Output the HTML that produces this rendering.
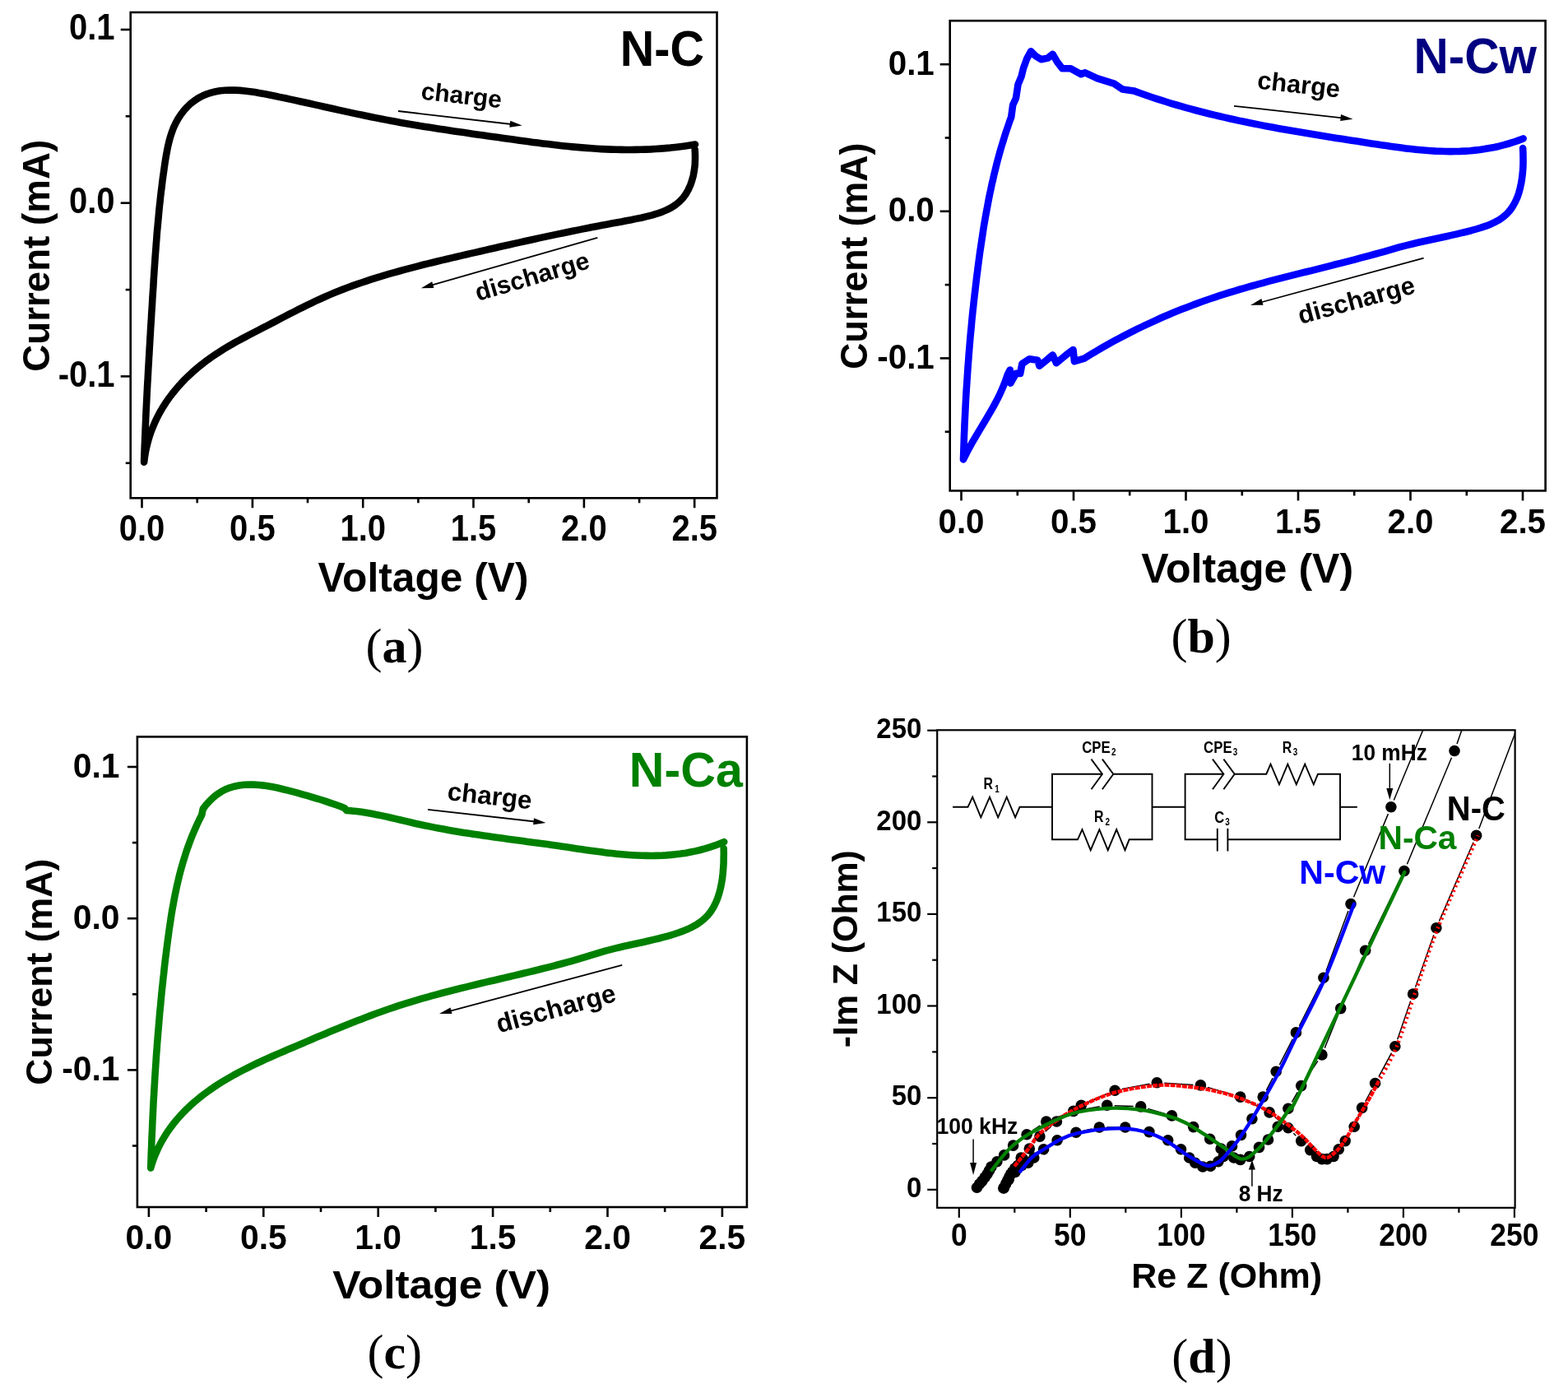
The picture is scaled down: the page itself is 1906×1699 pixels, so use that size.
<!DOCTYPE html>
<html><head><meta charset="utf-8"><title>Figure</title>
<style>html,body{margin:0;padding:0;background:#fff;}svg{display:block;}</style></head>
<body><svg width="1906" height="1699" viewBox="0 0 1906 1699">
<rect width="1906" height="1699" fill="#fff"/>
<rect x="158.7" y="15" width="712.8" height="590.3" fill="none" stroke="#000" stroke-width="2.6" stroke-linejoin="miter"/>
<line x1="172.5" y1="605.3" x2="172.5" y2="617.3" stroke="#000" stroke-width="2.6" stroke-linecap="butt"/>
<line x1="239.7" y1="605.3" x2="239.7" y2="611.3" stroke="#000" stroke-width="2.6" stroke-linecap="butt"/>
<line x1="306.9" y1="605.3" x2="306.9" y2="617.3" stroke="#000" stroke-width="2.6" stroke-linecap="butt"/>
<line x1="374" y1="605.3" x2="374" y2="611.3" stroke="#000" stroke-width="2.6" stroke-linecap="butt"/>
<line x1="441.2" y1="605.3" x2="441.2" y2="617.3" stroke="#000" stroke-width="2.6" stroke-linecap="butt"/>
<line x1="508.4" y1="605.3" x2="508.4" y2="611.3" stroke="#000" stroke-width="2.6" stroke-linecap="butt"/>
<line x1="575.5" y1="605.3" x2="575.5" y2="617.3" stroke="#000" stroke-width="2.6" stroke-linecap="butt"/>
<line x1="642.7" y1="605.3" x2="642.7" y2="611.3" stroke="#000" stroke-width="2.6" stroke-linecap="butt"/>
<line x1="709.9" y1="605.3" x2="709.9" y2="617.3" stroke="#000" stroke-width="2.6" stroke-linecap="butt"/>
<line x1="777.1" y1="605.3" x2="777.1" y2="611.3" stroke="#000" stroke-width="2.6" stroke-linecap="butt"/>
<line x1="844.2" y1="605.3" x2="844.2" y2="617.3" stroke="#000" stroke-width="2.6" stroke-linecap="butt"/>
<line x1="146.7" y1="36" x2="158.7" y2="36" stroke="#000" stroke-width="2.6" stroke-linecap="butt"/>
<line x1="152.7" y1="141.3" x2="158.7" y2="141.3" stroke="#000" stroke-width="2.6" stroke-linecap="butt"/>
<line x1="146.7" y1="246.7" x2="158.7" y2="246.7" stroke="#000" stroke-width="2.6" stroke-linecap="butt"/>
<line x1="152.7" y1="352.1" x2="158.7" y2="352.1" stroke="#000" stroke-width="2.6" stroke-linecap="butt"/>
<line x1="146.7" y1="457.4" x2="158.7" y2="457.4" stroke="#000" stroke-width="2.6" stroke-linecap="butt"/>
<line x1="152.7" y1="562.8" x2="158.7" y2="562.8" stroke="#000" stroke-width="2.6" stroke-linecap="butt"/>
<text transform="translate(139.6 48.3) scale(0.920 1)" font-size="43.5" font-weight="bold" fill="#000" text-anchor="end" font-family="'Liberation Sans', Arial, sans-serif">0.1</text>
<text transform="translate(139.6 259) scale(0.920 1)" font-size="43.5" font-weight="bold" fill="#000" text-anchor="end" font-family="'Liberation Sans', Arial, sans-serif">0.0</text>
<text transform="translate(139.6 469.7) scale(0.920 1)" font-size="43.5" font-weight="bold" fill="#000" text-anchor="end" font-family="'Liberation Sans', Arial, sans-serif">-0.1</text>
<text transform="translate(172.5 657.4) scale(0.920 1)" font-size="43.5" font-weight="bold" fill="#000" text-anchor="middle" font-family="'Liberation Sans', Arial, sans-serif">0.0</text>
<text transform="translate(306.9 657.4) scale(0.920 1)" font-size="43.5" font-weight="bold" fill="#000" text-anchor="middle" font-family="'Liberation Sans', Arial, sans-serif">0.5</text>
<text transform="translate(441.2 657.4) scale(0.920 1)" font-size="43.5" font-weight="bold" fill="#000" text-anchor="middle" font-family="'Liberation Sans', Arial, sans-serif">1.0</text>
<text transform="translate(575.5 657.4) scale(0.920 1)" font-size="43.5" font-weight="bold" fill="#000" text-anchor="middle" font-family="'Liberation Sans', Arial, sans-serif">1.5</text>
<text transform="translate(709.9 657.4) scale(0.920 1)" font-size="43.5" font-weight="bold" fill="#000" text-anchor="middle" font-family="'Liberation Sans', Arial, sans-serif">2.0</text>
<text transform="translate(844.2 657.4) scale(0.920 1)" font-size="43.5" font-weight="bold" fill="#000" text-anchor="middle" font-family="'Liberation Sans', Arial, sans-serif">2.5</text>
<text x="60.2" y="310.8" font-size="47" font-weight="bold" fill="#000" text-anchor="middle" font-family="'Liberation Sans', Arial, sans-serif" transform="rotate(-90 60.2 310.8)" textLength="282" lengthAdjust="spacingAndGlyphs">Current (mA)</text>
<text x="514.6" y="719.3" font-size="50" font-weight="bold" fill="#000" text-anchor="middle" font-family="'Liberation Sans', Arial, sans-serif" textLength="256" lengthAdjust="spacingAndGlyphs">Voltage (V)</text>
<text x="753.8" y="79.9" font-size="61.5" font-weight="bold" fill="#000" text-anchor="start" font-family="'Liberation Sans', Arial, sans-serif" textLength="102.3" lengthAdjust="spacingAndGlyphs">N-C</text>
<path d="M175.1 561.7 L175.3 555.7 L175.5 549.8 L175.7 543.8 L176 537.8 L176.2 531.8 L176.5 525.9 L176.7 519.9 L177 513.9 L177.2 507.9 L177.5 501.8 L177.8 495.8 L178.1 489.8 L178.4 483.8 L178.7 477.8 L179 471.7 L179.3 465.7 L179.7 459.7 L180 453.7 L180.3 447.6 L180.7 441.6 L181 435.6 L181.4 429.6 L181.7 423.5 L182.1 417.5 L182.4 411.5 L182.8 405.5 L183.1 399.5 L183.5 393.5 L183.9 387.5 L184.2 381.5 L184.6 375.5 L185 369.5 L185.3 363.5 L185.7 357.5 L186.1 351.6 L186.5 345.6 L186.8 339.6 L187.2 333.7 L187.6 327.7 L188 321.8 L188.4 315.9 L188.8 309.9 L189.3 304 L189.7 298 L190.2 292.1 L190.6 286.1 L191.1 280.2 L191.7 274.2 L192.2 268.3 L192.8 262.3 L193.3 256.4 L193.9 250.4 L194.6 244.4 L195.2 238.4 L195.9 232.4 L196.7 226.4 L197.4 220.3 L198.2 214.3 L199.1 208.2 L199.9 202.2 L200.8 196.1 L201.8 190 L202.9 183.9 L204.1 177.9 L205.5 172 L207.1 166.1 L209 160.4 L211.1 154.8 L213.7 149.4 L216.6 144.1 L219.9 139.1 L223.5 134.4 L227.5 130 L231.8 125.9 L236.4 122.3 L241.2 119.1 L246.2 116.5 L251.4 114.3 L256.7 112.6 L262.2 111.3 L267.8 110.3 L273.6 109.8 L279.5 109.5 L285.4 109.6 L291.4 109.9 L297.5 110.5 L303.7 111.2 L309.8 112.1 L316 113.2 L322.2 114.3 L328.3 115.5 L334.5 116.8 L340.6 118.1 L346.6 119.3 L352.6 120.6 L358.6 121.9 L364.6 123.2 L370.5 124.5 L376.4 125.8 L382.2 127.1 L388.1 128.4 L393.9 129.7 L399.7 131 L405.5 132.3 L411.3 133.6 L417.1 134.9 L422.9 136.1 L428.6 137.4 L434.4 138.6 L440.2 139.8 L446 141 L451.8 142.2 L457.6 143.4 L463.4 144.5 L469.2 145.6 L475 146.7 L480.9 147.8 L486.8 148.9 L492.7 149.9 L498.6 150.9 L504.5 151.9 L510.4 152.9 L516.3 153.9 L522.3 154.8 L528.2 155.7 L534.2 156.7 L540.2 157.6 L546.1 158.5 L552.1 159.4 L558.1 160.3 L564.1 161.1 L570.1 162 L576.1 162.9 L582 163.7 L588 164.6 L594 165.4 L600 166.3 L606 167.1 L612 168 L617.9 168.8 L623.9 169.6 L629.9 170.5 L635.8 171.3 L641.8 172.1 L647.8 172.9 L653.7 173.6 L659.7 174.4 L665.7 175.1 L671.6 175.8 L677.6 176.5 L683.5 177.2 L689.5 177.8 L695.4 178.4 L701.4 178.9 L707.3 179.4 L713.3 179.9 L719.2 180.3 L725.2 180.7 L731.2 181.1 L737.1 181.4 L743.1 181.6 L749.1 181.8 L755 181.9 L761 182 L767 182 L772.9 181.9 L778.9 181.8 L784.9 181.6 L790.9 181.4 L796.9 181 L802.9 180.6 L808.9 180.1 L814.9 179.6 L820.9 178.9 L826.9 178.2 L832.9 177.4 L839 176.5 L845 175.5 M844.7 181.8 L845 188 L845 194.3 L844.7 200.7 L843.9 207 L842.8 213.3 L841.1 219.4 L839.1 225.3 L836.5 230.9 L833.5 236.2 L829.9 241 L825.7 245.2 L821.1 249 L815.9 252.3 L810.4 255.1 L804.6 257.6 L798.5 259.7 L792.2 261.6 L785.9 263.2 L779.5 264.7 L773.2 265.9 L767.1 267.2 L761.1 268.3 L755.4 269.5 L749.5 270.6 L743.6 271.6 L737.7 272.7 L731.7 273.8 L725.8 275 L719.9 276.1 L714 277.2 L708.1 278.4 L702.2 279.6 L696.3 280.8 L690.4 282 L684.6 283.2 L678.7 284.4 L672.8 285.6 L666.9 286.9 L661 288.1 L655.1 289.4 L649.2 290.7 L643.4 292 L637.5 293.3 L631.6 294.6 L625.7 295.9 L619.8 297.2 L614 298.5 L608.1 299.8 L602.2 301.2 L596.4 302.5 L590.5 303.9 L584.6 305.2 L578.7 306.6 L572.9 307.9 L567 309.3 L561.1 310.6 L555.3 312 L549.4 313.4 L543.6 314.8 L537.7 316.1 L531.9 317.5 L526 319 L520.2 320.4 L514.3 321.8 L508.5 323.3 L502.7 324.8 L496.9 326.3 L491.1 327.9 L485.3 329.5 L479.5 331.1 L473.8 332.7 L468 334.4 L462.3 336.1 L456.6 337.9 L450.9 339.7 L445.2 341.6 L439.5 343.5 L433.9 345.4 L428.2 347.4 L422.6 349.5 L417 351.6 L411.5 353.8 L405.9 356.1 L400.4 358.4 L394.9 360.8 L389.5 363.2 L384 365.7 L378.6 368.3 L373.2 370.9 L367.8 373.6 L362.4 376.2 L357.1 379 L351.7 381.7 L346.3 384.5 L341 387.3 L335.6 390.1 L330.3 392.9 L324.9 395.7 L319.5 398.4 L314.1 401.2 L308.8 404 L303.4 406.8 L298.1 409.6 L292.7 412.4 L287.4 415.3 L282.2 418.3 L277 421.3 L271.8 424.4 L266.8 427.6 L261.7 430.9 L256.8 434.2 L251.9 437.7 L247.2 441.3 L242.5 445 L237.9 448.9 L233.4 452.8 L229.1 456.9 L224.8 461 L220.7 465.3 L216.7 469.7 L212.9 474.2 L209.2 478.8 L205.6 483.5 L202.2 488.4 L199 493.3 L195.9 498.4 L193 503.6 L190.3 508.9 L187.8 514.3 L185.5 519.8 L183.3 525.5 L181.4 531.2 L179.7 537.1 L178.2 543.1 L176.9 549.2 L175.9 555.4 L175.1 561.7" fill="none" stroke="#000" stroke-width="8.6" stroke-linejoin="round" stroke-linecap="round"/>
<line x1="484" y1="135" x2="621.8" y2="151" stroke="#000" stroke-width="1.8" stroke-linecap="butt"/>
<path d="M634.7 152.5 L619.3 154.7 L620.3 146.8 Z" fill="#000"/>
<text x="511" y="120.5" font-size="30" font-weight="bold" fill="#000" text-anchor="start" font-family="'Liberation Sans', Arial, sans-serif" transform="rotate(6.3 511 120.5)">charge</text>
<line x1="726.3" y1="288.9" x2="524.4" y2="346.7" stroke="#000" stroke-width="1.8" stroke-linecap="butt"/>
<path d="M511.9 350.3 L525.2 342.3 L527.4 350 Z" fill="#000"/>
<text x="581" y="366" font-size="30.3" font-weight="bold" fill="#000" text-anchor="start" font-family="'Liberation Sans', Arial, sans-serif" transform="rotate(-16.4 581 366)">discharge</text>
<text x="479.5" y="805" font-size="60" font-weight="normal" fill="#000" text-anchor="middle" font-family="'Liberation Serif', 'Times New Roman', serif">(<tspan font-weight="bold">a</tspan>)</text>
<rect x="1154.7" y="25.2" width="723.9" height="571.2" fill="none" stroke="#000" stroke-width="2.6" stroke-linejoin="miter"/>
<line x1="1168.5" y1="596.4" x2="1168.5" y2="608.4" stroke="#000" stroke-width="2.6" stroke-linecap="butt"/>
<line x1="1236.8" y1="596.4" x2="1236.8" y2="602.4" stroke="#000" stroke-width="2.6" stroke-linecap="butt"/>
<line x1="1305" y1="596.4" x2="1305" y2="608.4" stroke="#000" stroke-width="2.6" stroke-linecap="butt"/>
<line x1="1373.2" y1="596.4" x2="1373.2" y2="602.4" stroke="#000" stroke-width="2.6" stroke-linecap="butt"/>
<line x1="1441.5" y1="596.4" x2="1441.5" y2="608.4" stroke="#000" stroke-width="2.6" stroke-linecap="butt"/>
<line x1="1509.8" y1="596.4" x2="1509.8" y2="602.4" stroke="#000" stroke-width="2.6" stroke-linecap="butt"/>
<line x1="1578" y1="596.4" x2="1578" y2="608.4" stroke="#000" stroke-width="2.6" stroke-linecap="butt"/>
<line x1="1646.2" y1="596.4" x2="1646.2" y2="602.4" stroke="#000" stroke-width="2.6" stroke-linecap="butt"/>
<line x1="1714.5" y1="596.4" x2="1714.5" y2="608.4" stroke="#000" stroke-width="2.6" stroke-linecap="butt"/>
<line x1="1782.8" y1="596.4" x2="1782.8" y2="602.4" stroke="#000" stroke-width="2.6" stroke-linecap="butt"/>
<line x1="1851" y1="596.4" x2="1851" y2="608.4" stroke="#000" stroke-width="2.6" stroke-linecap="butt"/>
<line x1="1142.7" y1="78.2" x2="1154.7" y2="78.2" stroke="#000" stroke-width="2.6" stroke-linecap="butt"/>
<line x1="1148.7" y1="167.5" x2="1154.7" y2="167.5" stroke="#000" stroke-width="2.6" stroke-linecap="butt"/>
<line x1="1142.7" y1="256.8" x2="1154.7" y2="256.8" stroke="#000" stroke-width="2.6" stroke-linecap="butt"/>
<line x1="1148.7" y1="346.1" x2="1154.7" y2="346.1" stroke="#000" stroke-width="2.6" stroke-linecap="butt"/>
<line x1="1142.7" y1="435.4" x2="1154.7" y2="435.4" stroke="#000" stroke-width="2.6" stroke-linecap="butt"/>
<line x1="1148.7" y1="524.7" x2="1154.7" y2="524.7" stroke="#000" stroke-width="2.6" stroke-linecap="butt"/>
<text transform="translate(1135.8 90.8) scale(0.950 1)" font-size="42.5" font-weight="bold" fill="#000" text-anchor="end" font-family="'Liberation Sans', Arial, sans-serif">0.1</text>
<text transform="translate(1135.8 269.4) scale(0.950 1)" font-size="42.5" font-weight="bold" fill="#000" text-anchor="end" font-family="'Liberation Sans', Arial, sans-serif">0.0</text>
<text transform="translate(1135.8 448) scale(0.950 1)" font-size="42.5" font-weight="bold" fill="#000" text-anchor="end" font-family="'Liberation Sans', Arial, sans-serif">-0.1</text>
<text transform="translate(1168.5 647.6) scale(0.950 1)" font-size="42.5" font-weight="bold" fill="#000" text-anchor="middle" font-family="'Liberation Sans', Arial, sans-serif">0.0</text>
<text transform="translate(1305 647.6) scale(0.950 1)" font-size="42.5" font-weight="bold" fill="#000" text-anchor="middle" font-family="'Liberation Sans', Arial, sans-serif">0.5</text>
<text transform="translate(1441.5 647.6) scale(0.950 1)" font-size="42.5" font-weight="bold" fill="#000" text-anchor="middle" font-family="'Liberation Sans', Arial, sans-serif">1.0</text>
<text transform="translate(1578 647.6) scale(0.950 1)" font-size="42.5" font-weight="bold" fill="#000" text-anchor="middle" font-family="'Liberation Sans', Arial, sans-serif">1.5</text>
<text transform="translate(1714.5 647.6) scale(0.950 1)" font-size="42.5" font-weight="bold" fill="#000" text-anchor="middle" font-family="'Liberation Sans', Arial, sans-serif">2.0</text>
<text transform="translate(1851 647.6) scale(0.950 1)" font-size="42.5" font-weight="bold" fill="#000" text-anchor="middle" font-family="'Liberation Sans', Arial, sans-serif">2.5</text>
<text x="1054.4" y="311.2" font-size="46" font-weight="bold" fill="#000" text-anchor="middle" font-family="'Liberation Sans', Arial, sans-serif" transform="rotate(-90 1054.4 311.2)" textLength="275" lengthAdjust="spacingAndGlyphs">Current (mA)</text>
<text x="1516.2" y="707.5" font-size="49.5" font-weight="bold" fill="#000" text-anchor="middle" font-family="'Liberation Sans', Arial, sans-serif" textLength="258" lengthAdjust="spacingAndGlyphs">Voltage (V)</text>
<text x="1718.5" y="88.9" font-size="60.5" font-weight="bold" fill="#000080" text-anchor="start" font-family="'Liberation Sans', Arial, sans-serif" textLength="149.5" lengthAdjust="spacingAndGlyphs">N-Cw</text>
<path d="M1171 558.4 L1171.2 552.4 L1171.4 546.4 L1171.6 540.3 L1171.8 534.3 L1172 528.3 L1172.3 522.3 L1172.5 516.3 L1172.8 510.2 L1173.1 504.2 L1173.4 498.2 L1173.7 492.2 L1174 486.2 L1174.3 480.2 L1174.7 474.1 L1175.1 468.1 L1175.5 462.1 L1175.9 456.1 L1176.3 450.1 L1176.7 444.1 L1177.2 438.1 L1177.6 432.1 L1178.1 426.1 L1178.6 420 L1179.1 414 L1179.6 408 L1180.2 402 L1180.8 396 L1181.3 390 L1181.9 384 L1182.5 378 L1183.2 372 L1183.8 366.1 L1184.5 360.1 L1185.2 354.1 L1185.9 348.1 L1186.6 342.1 L1187.3 336.1 L1188.1 330.1 L1188.8 324.2 L1189.6 318.2 L1190.4 312.2 L1191.2 306.2 L1192.1 300.3 L1193 294.3 L1193.9 288.3 L1194.8 282.4 L1195.7 276.4 L1196.7 270.5 L1197.7 264.6 L1198.8 258.6 L1199.9 252.7 L1201 246.8 L1202.1 240.9 L1203.3 235 L1204.6 229.1 L1205.8 223.2 L1207.2 217.4 L1208.5 211.5 L1210 205.7 L1211.4 199.8 L1212.9 194 L1214.5 188.2 L1216.1 182.4 L1217.8 176.6 L1219.6 170.9 L1221.4 165.1 L1223.2 159.4 L1225.2 153.7 L1227.1 148 L1229.2 142.3 L1229.2 142.3 L1231.2 127.5 L1235 119.2 L1237.5 102.7 L1241.6 92.8 L1244 83 L1248.2 71.4 L1253.1 62.4 L1258.9 68.1 L1265.5 72.2 L1273.7 70.6 L1279.5 65.7 L1285 75.1 L1291.3 83.3 L1301.4 83.3 L1314 90.2 L1319 88.3 L1334.1 95.3 L1354.3 101.6 L1364.4 108.5 L1378.2 110.4 L1378.2 110.4 L1383.9 112.5 L1389.6 114.5 L1395.3 116.5 L1401.1 118.5 L1406.8 120.4 L1412.6 122.2 L1418.3 124 L1424.1 125.8 L1429.9 127.5 L1435.7 129.2 L1441.5 130.8 L1447.3 132.4 L1453.1 134 L1458.9 135.5 L1464.8 137 L1470.6 138.5 L1476.5 139.9 L1482.3 141.3 L1488.2 142.6 L1494.1 144 L1500 145.3 L1505.9 146.6 L1511.8 147.8 L1517.7 149 L1523.6 150.2 L1529.5 151.4 L1535.4 152.6 L1541.4 153.7 L1547.3 154.8 L1553.3 155.9 L1559.2 157 L1565.2 158 L1571.1 159.1 L1577.1 160.1 L1583.1 161.1 L1589 162.1 L1595 163.1 L1601 164.1 L1607 165 L1613 166 L1619 166.9 L1625 167.9 L1631 168.8 L1637 169.8 L1643 170.7 L1649 171.6 L1655 172.6 L1661 173.5 L1667 174.4 L1673 175.3 L1679.1 176.3 L1685.1 177.1 L1691.1 178 L1697.1 178.8 L1703.1 179.6 L1709.1 180.4 L1715.1 181.1 L1721.1 181.7 L1727.1 182.3 L1733.1 182.8 L1739.1 183.2 L1745.1 183.6 L1751.1 183.8 L1757.1 184 L1763.1 184.1 L1769 184 L1775 183.9 L1781 183.6 L1786.9 183.2 L1792.8 182.6 L1798.8 181.9 L1804.7 181.1 L1810.6 180.1 L1816.5 179 L1822.4 177.7 L1828.2 176.2 L1834.1 174.5 L1839.9 172.7 L1845.8 170.6 L1851.6 168.4 M1851.1 180.1 L1851.4 185.8 L1851.5 191.8 L1851.5 197.9 L1851.3 204.1 L1850.8 210.3 L1850.1 216.5 L1849.1 222.7 L1847.8 228.7 L1846.2 234.6 L1844.2 240.3 L1841.7 245.7 L1838.9 250.8 L1835.6 255.5 L1831.8 259.7 L1827.5 263.5 L1822.7 266.9 L1817.5 269.8 L1812 272.4 L1806.3 274.7 L1800.3 276.7 L1794.3 278.5 L1788.2 280.2 L1782.1 281.7 L1776.1 283.2 L1770.2 284.6 L1764.3 285.9 L1758.5 287.2 L1752.7 288.5 L1746.9 289.7 L1741.1 291 L1735.3 292.2 L1729.5 293.5 L1723.7 294.8 L1717.8 296.2 L1712 297.6 L1706 299.1 L1700 300.7 L1694.2 302.4 L1688.3 304.1 L1682.5 305.8 L1676.7 307.4 L1670.8 309 L1664.9 310.6 L1659.1 312.2 L1653.2 313.7 L1647.3 315.3 L1641.4 316.8 L1635.5 318.3 L1629.6 319.9 L1623.7 321.3 L1617.8 322.8 L1611.9 324.3 L1606 325.8 L1600.1 327.3 L1594.2 328.8 L1588.3 330.2 L1582.4 331.7 L1576.5 333.2 L1570.6 334.7 L1564.7 336.2 L1558.8 337.7 L1552.9 339.2 L1547 340.7 L1541.2 342.2 L1535.3 343.8 L1529.4 345.4 L1523.6 347 L1517.7 348.7 L1511.9 350.3 L1506 352 L1500.2 353.8 L1494.4 355.5 L1488.6 357.3 L1482.9 359.2 L1477.1 361.1 L1471.4 363 L1465.6 365 L1459.9 367 L1454.2 369.1 L1448.6 371.2 L1442.9 373.4 L1437.3 375.6 L1431.6 377.8 L1426 380.1 L1420.4 382.5 L1414.9 384.8 L1409.3 387.3 L1403.8 389.8 L1398.3 392.3 L1392.8 394.8 L1387.3 397.5 L1381.8 400.1 L1376.4 402.8 L1371 405.6 L1365.6 408.4 L1360.2 411.2 L1354.9 414.1 L1349.5 417 L1344.2 420 L1338.9 423 L1333.7 426.1 L1328.4 429.2 L1323.2 432.4 L1318 435.6 L1318 435.6 L1306 439.2 L1304.5 425 L1296.7 430.7 L1284 441.3 L1279.7 431.4 L1263.5 444.8 L1261.3 437.7 L1251.2 436.2 L1242.4 442.1 L1240.2 453.9 L1235 453.9 L1228.4 465.7 L1227.7 449.5 L1224.7 455.4 L1224.7 455.4 L1222.7 461.3 L1220.6 467 L1218.2 472.7 L1215.7 478.3 L1213 483.8 L1210.2 489.2 L1207.3 494.6 L1204.3 499.9 L1201.2 505.2 L1198.1 510.4 L1194.9 515.7 L1191.8 520.9 L1188.6 526.2 L1185.5 531.5 L1182.4 536.7 L1179.4 542.1 L1176.5 547.5 L1173.7 552.9 L1171 558.4" fill="none" stroke="#0000ff" stroke-width="8.6" stroke-linejoin="round" stroke-linecap="round"/>
<line x1="1500" y1="128.8" x2="1631.6" y2="143.3" stroke="#000" stroke-width="1.8" stroke-linecap="butt"/>
<path d="M1644.5 144.7 L1629.2 147 L1630 139.1 Z" fill="#000"/>
<text x="1527.5" y="107.5" font-size="30.8" font-weight="bold" fill="#000" text-anchor="start" font-family="'Liberation Sans', Arial, sans-serif" transform="rotate(6.3 1527.5 107.5)">charge</text>
<line x1="1730.6" y1="313.7" x2="1532.5" y2="367.5" stroke="#000" stroke-width="1.8" stroke-linecap="butt"/>
<path d="M1520 370.9 L1533.4 363.1 L1535.5 370.8 Z" fill="#000"/>
<text x="1581" y="394" font-size="30.9" font-weight="bold" fill="#000" text-anchor="start" font-family="'Liberation Sans', Arial, sans-serif" transform="rotate(-15.2 1581 394)">discharge</text>
<text x="1460.1" y="793.2" font-size="60" font-weight="normal" fill="#000" text-anchor="middle" font-family="'Liberation Serif', 'Times New Roman', serif">(<tspan font-weight="bold">b</tspan>)</text>
<rect x="166.9" y="895.4" width="741" height="571.6" fill="none" stroke="#000" stroke-width="2.6" stroke-linejoin="miter"/>
<line x1="180.9" y1="1467" x2="180.9" y2="1479" stroke="#000" stroke-width="2.6" stroke-linecap="butt"/>
<line x1="250.6" y1="1467" x2="250.6" y2="1473" stroke="#000" stroke-width="2.6" stroke-linecap="butt"/>
<line x1="320.3" y1="1467" x2="320.3" y2="1479" stroke="#000" stroke-width="2.6" stroke-linecap="butt"/>
<line x1="390" y1="1467" x2="390" y2="1473" stroke="#000" stroke-width="2.6" stroke-linecap="butt"/>
<line x1="459.7" y1="1467" x2="459.7" y2="1479" stroke="#000" stroke-width="2.6" stroke-linecap="butt"/>
<line x1="529.4" y1="1467" x2="529.4" y2="1473" stroke="#000" stroke-width="2.6" stroke-linecap="butt"/>
<line x1="599.1" y1="1467" x2="599.1" y2="1479" stroke="#000" stroke-width="2.6" stroke-linecap="butt"/>
<line x1="668.8" y1="1467" x2="668.8" y2="1473" stroke="#000" stroke-width="2.6" stroke-linecap="butt"/>
<line x1="738.5" y1="1467" x2="738.5" y2="1479" stroke="#000" stroke-width="2.6" stroke-linecap="butt"/>
<line x1="808.2" y1="1467" x2="808.2" y2="1473" stroke="#000" stroke-width="2.6" stroke-linecap="butt"/>
<line x1="877.9" y1="1467" x2="877.9" y2="1479" stroke="#000" stroke-width="2.6" stroke-linecap="butt"/>
<line x1="154.9" y1="932" x2="166.9" y2="932" stroke="#000" stroke-width="2.6" stroke-linecap="butt"/>
<line x1="160.9" y1="1024.1" x2="166.9" y2="1024.1" stroke="#000" stroke-width="2.6" stroke-linecap="butt"/>
<line x1="154.9" y1="1116.2" x2="166.9" y2="1116.2" stroke="#000" stroke-width="2.6" stroke-linecap="butt"/>
<line x1="160.9" y1="1208.3" x2="166.9" y2="1208.3" stroke="#000" stroke-width="2.6" stroke-linecap="butt"/>
<line x1="154.9" y1="1300.4" x2="166.9" y2="1300.4" stroke="#000" stroke-width="2.6" stroke-linecap="butt"/>
<line x1="160.9" y1="1392.5" x2="166.9" y2="1392.5" stroke="#000" stroke-width="2.6" stroke-linecap="butt"/>
<text transform="translate(145.5 944.8) scale(0.960 1)" font-size="42.5" font-weight="bold" fill="#000" text-anchor="end" font-family="'Liberation Sans', Arial, sans-serif">0.1</text>
<text transform="translate(145.5 1129) scale(0.960 1)" font-size="42.5" font-weight="bold" fill="#000" text-anchor="end" font-family="'Liberation Sans', Arial, sans-serif">0.0</text>
<text transform="translate(145.5 1313.2) scale(0.960 1)" font-size="42.5" font-weight="bold" fill="#000" text-anchor="end" font-family="'Liberation Sans', Arial, sans-serif">-0.1</text>
<text transform="translate(180.9 1518.2) scale(0.960 1)" font-size="42.5" font-weight="bold" fill="#000" text-anchor="middle" font-family="'Liberation Sans', Arial, sans-serif">0.0</text>
<text transform="translate(320.3 1518.2) scale(0.960 1)" font-size="42.5" font-weight="bold" fill="#000" text-anchor="middle" font-family="'Liberation Sans', Arial, sans-serif">0.5</text>
<text transform="translate(459.7 1518.2) scale(0.960 1)" font-size="42.5" font-weight="bold" fill="#000" text-anchor="middle" font-family="'Liberation Sans', Arial, sans-serif">1.0</text>
<text transform="translate(599.1 1518.2) scale(0.960 1)" font-size="42.5" font-weight="bold" fill="#000" text-anchor="middle" font-family="'Liberation Sans', Arial, sans-serif">1.5</text>
<text transform="translate(738.5 1518.2) scale(0.960 1)" font-size="42.5" font-weight="bold" fill="#000" text-anchor="middle" font-family="'Liberation Sans', Arial, sans-serif">2.0</text>
<text transform="translate(877.9 1518.2) scale(0.960 1)" font-size="42.5" font-weight="bold" fill="#000" text-anchor="middle" font-family="'Liberation Sans', Arial, sans-serif">2.5</text>
<text x="63.1" y="1181.2" font-size="45" font-weight="bold" fill="#000" text-anchor="middle" font-family="'Liberation Sans', Arial, sans-serif" transform="rotate(-90 63.1 1181.2)" textLength="275" lengthAdjust="spacingAndGlyphs">Current (mA)</text>
<text x="536.7" y="1577.6" font-size="48" font-weight="bold" fill="#000" text-anchor="middle" font-family="'Liberation Sans', Arial, sans-serif" textLength="265" lengthAdjust="spacingAndGlyphs">Voltage (V)</text>
<text x="764.8" y="955.8" font-size="60" font-weight="bold" fill="#008000" text-anchor="start" font-family="'Liberation Sans', Arial, sans-serif" textLength="138" lengthAdjust="spacingAndGlyphs">N-Ca</text>
<path d="M183.2 1419.5 L183.4 1413.5 L183.6 1407.4 L183.8 1401.4 L184.1 1395.3 L184.3 1389.3 L184.5 1383.2 L184.8 1377.2 L185.1 1371.1 L185.3 1365.1 L185.6 1359 L185.9 1353 L186.2 1346.9 L186.5 1340.9 L186.8 1334.8 L187.2 1328.8 L187.5 1322.7 L187.9 1316.7 L188.2 1310.6 L188.6 1304.6 L189 1298.5 L189.4 1292.5 L189.8 1286.4 L190.2 1280.4 L190.7 1274.3 L191.1 1268.3 L191.6 1262.2 L192.1 1256.2 L192.6 1250.1 L193.1 1244.1 L193.6 1238 L194.1 1232 L194.7 1225.9 L195.3 1219.9 L195.8 1213.9 L196.4 1207.8 L197 1201.8 L197.7 1195.8 L198.3 1189.7 L199 1183.7 L199.6 1177.7 L200.3 1171.6 L201 1165.6 L201.8 1159.6 L202.5 1153.5 L203.3 1147.5 L204.1 1141.5 L204.9 1135.5 L205.7 1129.5 L206.6 1123.5 L207.5 1117.5 L208.4 1111.5 L209.4 1105.5 L210.5 1099.6 L211.6 1093.6 L212.7 1087.7 L214 1081.8 L215.2 1075.9 L216.6 1070 L218 1064.1 L219.5 1058.3 L221.1 1052.5 L222.8 1046.7 L224.6 1041 L226.4 1035.2 L228.4 1029.5 L230.5 1023.8 L232.6 1018.2 L234.9 1012.6 L237.3 1007 L239.8 1001.5 L242.4 996 L245.2 990.5 L246.8 983 L250.5 978.2 L254.6 973.6 L259 969.4 L263.6 965.6 L268.6 962.3 L273.8 959.5 L279.3 957.3 L285 955.7 L290.8 954.5 L296.8 953.8 L302.8 953.5 L308.8 953.6 L314.8 954 L320.7 954.6 L326.7 955.5 L332.6 956.6 L338.4 957.8 L344.2 959.2 L350.1 960.7 L355.9 962.2 L361.6 963.7 L367.4 965.3 L373.2 966.9 L378.9 968.6 L384.6 970.3 L390.3 972 L396 973.9 L401.7 975.8 L407.4 977.8 L413.1 979.8 L418.7 982 L421.5 985 L427.5 985.4 L433.5 986.1 L439.4 986.8 L445.4 987.8 L451.3 988.8 L457.2 989.9 L463.2 991.1 L469.1 992.4 L475 993.8 L480.9 995.1 L486.8 996.5 L492.7 997.9 L498.6 999.3 L504.5 1000.7 L510.4 1002 L516.3 1003.2 L522.2 1004.4 L528.1 1005.6 L534.1 1006.7 L540 1007.8 L545.9 1008.9 L551.8 1009.9 L557.8 1010.9 L563.7 1011.9 L569.7 1012.8 L575.6 1013.7 L581.6 1014.6 L587.5 1015.5 L593.5 1016.3 L599.5 1017.2 L605.4 1018 L611.4 1018.8 L617.4 1019.7 L623.4 1020.5 L629.4 1021.3 L635.3 1022.1 L641.3 1022.9 L647.3 1023.7 L653.3 1024.5 L659.3 1025.3 L665.4 1026.1 L671.4 1027 L677.4 1027.8 L683.4 1028.7 L689.5 1029.6 L695.5 1030.5 L701.5 1031.4 L707.6 1032.3 L713.6 1033.2 L719.6 1034 L725.7 1034.8 L731.7 1035.6 L737.7 1036.4 L743.8 1037.1 L749.8 1037.7 L755.8 1038.3 L761.8 1038.8 L767.9 1039.2 L773.9 1039.5 L779.9 1039.8 L785.9 1039.9 L791.9 1040 L797.8 1039.9 L803.8 1039.7 L809.8 1039.4 L815.7 1038.9 L821.6 1038.3 L827.6 1037.6 L833.5 1036.7 L839.4 1035.6 L845.3 1034.4 L851.1 1033 L857 1031.4 L862.8 1029.6 L868.6 1027.7 L874.4 1025.5 L880.2 1023.1 M879.7 1031.1 L879.8 1036.9 L879.7 1042.8 L879.6 1049 L879.2 1055.2 L878.7 1061.4 L878 1067.7 L877 1073.9 L875.7 1080 L874.1 1086 L872.2 1091.8 L869.9 1097.4 L867.2 1102.7 L864.1 1107.6 L860.6 1112.2 L856.5 1116.3 L852 1120 L847.1 1123.4 L841.9 1126.3 L836.4 1129 L830.6 1131.4 L824.8 1133.5 L818.8 1135.5 L812.8 1137.3 L806.8 1138.9 L800.8 1140.5 L794.9 1141.9 L789 1143.3 L783 1144.7 L777.1 1146 L771.2 1147.3 L765.3 1148.5 L759.4 1149.8 L753.5 1151.2 L747.6 1152.6 L741.8 1154.1 L735.9 1155.6 L730 1157.3 L724.3 1159.1 L718.5 1160.9 L712.8 1162.7 L707 1164.4 L701.2 1166.1 L695.4 1167.8 L689.6 1169.4 L683.7 1171 L677.9 1172.5 L672.1 1174.1 L666.2 1175.6 L660.3 1177 L654.5 1178.5 L648.6 1180 L642.7 1181.4 L636.8 1182.8 L630.9 1184.2 L625 1185.6 L619.1 1187 L613.2 1188.4 L607.3 1189.8 L601.4 1191.2 L595.5 1192.5 L589.6 1193.9 L583.7 1195.3 L577.8 1196.7 L572 1198.2 L566.1 1199.6 L560.2 1201 L554.3 1202.5 L548.5 1204 L542.6 1205.5 L536.8 1207 L531 1208.6 L525.1 1210.1 L519.3 1211.8 L513.5 1213.4 L507.7 1215.1 L502 1216.8 L496.2 1218.6 L490.5 1220.4 L484.8 1222.2 L479.1 1224.1 L473.4 1226 L467.7 1228 L462.1 1230 L456.4 1232 L450.8 1234.1 L445.2 1236.2 L439.6 1238.4 L434 1240.6 L428.4 1242.8 L422.8 1245 L417.2 1247.3 L411.7 1249.5 L406.1 1251.8 L400.5 1254.1 L395 1256.5 L389.4 1258.8 L383.8 1261.1 L378.3 1263.5 L372.7 1265.9 L367.2 1268.2 L361.6 1270.6 L356 1273 L350.4 1275.3 L344.9 1277.7 L339.3 1280.1 L333.7 1282.5 L328.2 1285 L322.7 1287.4 L317.2 1290 L311.7 1292.5 L306.3 1295.1 L300.9 1297.8 L295.5 1300.5 L290.2 1303.3 L284.9 1306.1 L279.7 1309.1 L274.5 1312.1 L269.4 1315.2 L264.3 1318.4 L259.3 1321.7 L254.4 1325.1 L249.6 1328.6 L244.9 1332.2 L240.2 1336 L235.7 1339.8 L231.2 1343.8 L226.9 1347.9 L222.7 1352.1 L218.6 1356.5 L214.7 1361 L210.9 1365.6 L207.3 1370.4 L203.8 1375.2 L200.6 1380.3 L197.5 1385.4 L194.6 1390.7 L191.9 1396.2 L189.4 1401.8 L187.1 1407.5 L185 1413.4 L183.2 1419.5" fill="none" stroke="#008000" stroke-width="8.6" stroke-linejoin="round" stroke-linecap="round"/>
<line x1="520" y1="983.9" x2="650.6" y2="998.5" stroke="#000" stroke-width="1.8" stroke-linecap="butt"/>
<path d="M663.5 999.9 L648.1 1002.2 L649 994.3 Z" fill="#000"/>
<text x="543" y="972" font-size="31.4" font-weight="bold" fill="#000" text-anchor="start" font-family="'Liberation Sans', Arial, sans-serif" transform="rotate(6.3 543 972)">charge</text>
<line x1="756.2" y1="1172.9" x2="546.6" y2="1228.8" stroke="#000" stroke-width="1.8" stroke-linecap="butt"/>
<path d="M534 1232.1 L547.5 1224.4 L549.5 1232.1 Z" fill="#000"/>
<text x="606.5" y="1255.5" font-size="31.6" font-weight="bold" fill="#000" text-anchor="start" font-family="'Liberation Sans', Arial, sans-serif" transform="rotate(-15.2 606.5 1255.5)">discharge</text>
<text x="479.7" y="1662.9" font-size="60" font-weight="normal" fill="#000" text-anchor="middle" font-family="'Liberation Serif', 'Times New Roman', serif">(<tspan font-weight="bold">c</tspan>)</text>
<rect x="1139.2" y="887.3" width="702.4" height="580.5" fill="none" stroke="#000" stroke-width="2.2" stroke-linejoin="miter"/>
<line x1="1165.8" y1="1467.8" x2="1165.8" y2="1479.8" stroke="#000" stroke-width="2.2" stroke-linecap="butt"/>
<line x1="1233.3" y1="1467.8" x2="1233.3" y2="1473.8" stroke="#000" stroke-width="2.2" stroke-linecap="butt"/>
<line x1="1300.8" y1="1467.8" x2="1300.8" y2="1479.8" stroke="#000" stroke-width="2.2" stroke-linecap="butt"/>
<line x1="1368.3" y1="1467.8" x2="1368.3" y2="1473.8" stroke="#000" stroke-width="2.2" stroke-linecap="butt"/>
<line x1="1435.9" y1="1467.8" x2="1435.9" y2="1479.8" stroke="#000" stroke-width="2.2" stroke-linecap="butt"/>
<line x1="1503.4" y1="1467.8" x2="1503.4" y2="1473.8" stroke="#000" stroke-width="2.2" stroke-linecap="butt"/>
<line x1="1570.9" y1="1467.8" x2="1570.9" y2="1479.8" stroke="#000" stroke-width="2.2" stroke-linecap="butt"/>
<line x1="1638.4" y1="1467.8" x2="1638.4" y2="1473.8" stroke="#000" stroke-width="2.2" stroke-linecap="butt"/>
<line x1="1705.9" y1="1467.8" x2="1705.9" y2="1479.8" stroke="#000" stroke-width="2.2" stroke-linecap="butt"/>
<line x1="1773.4" y1="1467.8" x2="1773.4" y2="1473.8" stroke="#000" stroke-width="2.2" stroke-linecap="butt"/>
<line x1="1840.9" y1="1467.8" x2="1840.9" y2="1479.8" stroke="#000" stroke-width="2.2" stroke-linecap="butt"/>
<line x1="1127.2" y1="1445.8" x2="1139.2" y2="1445.8" stroke="#000" stroke-width="2.2" stroke-linecap="butt"/>
<line x1="1133.2" y1="1390" x2="1139.2" y2="1390" stroke="#000" stroke-width="2.2" stroke-linecap="butt"/>
<line x1="1127.2" y1="1334.2" x2="1139.2" y2="1334.2" stroke="#000" stroke-width="2.2" stroke-linecap="butt"/>
<line x1="1133.2" y1="1278.4" x2="1139.2" y2="1278.4" stroke="#000" stroke-width="2.2" stroke-linecap="butt"/>
<line x1="1127.2" y1="1222.5" x2="1139.2" y2="1222.5" stroke="#000" stroke-width="2.2" stroke-linecap="butt"/>
<line x1="1133.2" y1="1166.7" x2="1139.2" y2="1166.7" stroke="#000" stroke-width="2.2" stroke-linecap="butt"/>
<line x1="1127.2" y1="1110.9" x2="1139.2" y2="1110.9" stroke="#000" stroke-width="2.2" stroke-linecap="butt"/>
<line x1="1133.2" y1="1055.1" x2="1139.2" y2="1055.1" stroke="#000" stroke-width="2.2" stroke-linecap="butt"/>
<line x1="1127.2" y1="999.3" x2="1139.2" y2="999.3" stroke="#000" stroke-width="2.2" stroke-linecap="butt"/>
<line x1="1133.2" y1="943.5" x2="1139.2" y2="943.5" stroke="#000" stroke-width="2.2" stroke-linecap="butt"/>
<line x1="1127.2" y1="887.7" x2="1139.2" y2="887.7" stroke="#000" stroke-width="2.2" stroke-linecap="butt"/>
<text transform="translate(1120.3 1455) scale(0.915 1)" font-size="36" font-weight="bold" fill="#000" text-anchor="end" font-family="'Liberation Sans', Arial, sans-serif">0</text>
<text transform="translate(1165.8 1514.4) scale(0.920 1)" font-size="38.5" font-weight="bold" fill="#000" text-anchor="middle" font-family="'Liberation Sans', Arial, sans-serif">0</text>
<text transform="translate(1120.3 1343.4) scale(0.915 1)" font-size="36" font-weight="bold" fill="#000" text-anchor="end" font-family="'Liberation Sans', Arial, sans-serif">50</text>
<text transform="translate(1300.8 1514.4) scale(0.920 1)" font-size="38.5" font-weight="bold" fill="#000" text-anchor="middle" font-family="'Liberation Sans', Arial, sans-serif">50</text>
<text transform="translate(1120.3 1231.8) scale(0.915 1)" font-size="36" font-weight="bold" fill="#000" text-anchor="end" font-family="'Liberation Sans', Arial, sans-serif">100</text>
<text transform="translate(1435.9 1514.4) scale(0.920 1)" font-size="38.5" font-weight="bold" fill="#000" text-anchor="middle" font-family="'Liberation Sans', Arial, sans-serif">100</text>
<text transform="translate(1120.3 1120.1) scale(0.915 1)" font-size="36" font-weight="bold" fill="#000" text-anchor="end" font-family="'Liberation Sans', Arial, sans-serif">150</text>
<text transform="translate(1570.9 1514.4) scale(0.920 1)" font-size="38.5" font-weight="bold" fill="#000" text-anchor="middle" font-family="'Liberation Sans', Arial, sans-serif">150</text>
<text transform="translate(1120.3 1008.5) scale(0.915 1)" font-size="36" font-weight="bold" fill="#000" text-anchor="end" font-family="'Liberation Sans', Arial, sans-serif">200</text>
<text transform="translate(1705.9 1514.4) scale(0.920 1)" font-size="38.5" font-weight="bold" fill="#000" text-anchor="middle" font-family="'Liberation Sans', Arial, sans-serif">200</text>
<text transform="translate(1120.3 896.9) scale(0.915 1)" font-size="36" font-weight="bold" fill="#000" text-anchor="end" font-family="'Liberation Sans', Arial, sans-serif">250</text>
<text transform="translate(1840.9 1514.4) scale(0.920 1)" font-size="38.5" font-weight="bold" fill="#000" text-anchor="middle" font-family="'Liberation Sans', Arial, sans-serif">250</text>
<text x="1042" y="1153.2" font-size="42" font-weight="bold" fill="#000" text-anchor="middle" font-family="'Liberation Sans', Arial, sans-serif" transform="rotate(-90 1042 1153.2)" textLength="240" lengthAdjust="spacingAndGlyphs">-Im Z (Ohm)</text>
<text x="1491.2" y="1565" font-size="42" font-weight="bold" fill="#000" text-anchor="middle" font-family="'Liberation Sans', Arial, sans-serif" textLength="232" lengthAdjust="spacingAndGlyphs">Re Z (Ohm)</text>
<text x="1461" y="1667.8" font-size="60" font-weight="normal" fill="#000" text-anchor="middle" font-family="'Liberation Serif', 'Times New Roman', serif">(<tspan font-weight="bold">d</tspan>)</text>
<path d="M1158.1 980.8 L1176.5 980.8 L1182.2 968.7 L1192.3 993.4 L1203 968.7 L1213.2 993.4 L1223.7 968.7 L1234.1 993.4 L1239.5 980.8 L1279 980.8" fill="none" stroke="#000" stroke-width="1.9" stroke-linejoin="miter"/>
<path d="M1339.9 940.7 L1279 940.7 L1279 1020.3 L1310 1020.3 L1315.5 1008.1 L1325.7 1033.2 L1336.4 1008.1 L1346.7 1033.2 L1357.2 1008.1 L1367.5 1033.2 L1372.6 1020.3 L1400.5 1020.3 L1400.5 940.7 L1353.3 940.7" fill="none" stroke="#000" stroke-width="1.9" stroke-linejoin="miter"/>
<path d="M1326.5 922.6 L1339.9 940.7 L1326.5 959.3" fill="none" stroke="#000" stroke-width="1.9" stroke-linejoin="miter"/>
<path d="M1339.9 922.6 L1353.3 940.7 L1339.9 959.3" fill="none" stroke="#000" stroke-width="1.9" stroke-linejoin="miter"/>
<path d="M1400.5 980.8 L1440.6 980.8" fill="none" stroke="#000" stroke-width="1.9" stroke-linejoin="miter"/>
<path d="M1487.4 940.7 L1440.6 940.7 L1440.6 1020.3 L1479.8 1020.3" fill="none" stroke="#000" stroke-width="1.9" stroke-linejoin="miter"/>
<path d="M1500.7 940.7 L1539.3 940.7 L1544.5 928.6 L1555 953.3 L1565.3 928.6 L1575.8 953.3 L1586.2 928.6 L1596.8 953.3 L1602 940.7 L1629 940.7 L1629 1020.3 L1492.4 1020.3" fill="none" stroke="#000" stroke-width="1.9" stroke-linejoin="miter"/>
<path d="M1474 922.6 L1487.4 940.7 L1474 959.3" fill="none" stroke="#000" stroke-width="1.9" stroke-linejoin="miter"/>
<path d="M1487.4 922.6 L1500.7 940.7 L1487.4 959.3" fill="none" stroke="#000" stroke-width="1.9" stroke-linejoin="miter"/>
<path d="M1479.8 1006.8 L1479.8 1034.5" fill="none" stroke="#000" stroke-width="1.9" stroke-linejoin="miter"/>
<path d="M1492.4 1006.8 L1492.4 1034.5" fill="none" stroke="#000" stroke-width="1.9" stroke-linejoin="miter"/>
<path d="M1629 980.8 L1649.8 980.8" fill="none" stroke="#000" stroke-width="1.9" stroke-linejoin="miter"/>
<text x="1195.6" y="959.3" font-size="19.5" font-weight="bold" font-family="'Liberation Sans', Arial, sans-serif" fill="#000" textLength="11.5" lengthAdjust="spacingAndGlyphs">R</text>
<text x="1209.3" y="962.6" font-size="12.5" font-weight="bold" font-family="'Liberation Sans', Arial, sans-serif" fill="#000" textLength="5.5" lengthAdjust="spacingAndGlyphs">1</text>
<text x="1315.2" y="915" font-size="19.5" font-weight="bold" font-family="'Liberation Sans', Arial, sans-serif" fill="#000" textLength="34.5" lengthAdjust="spacingAndGlyphs">CPE</text>
<text x="1351" y="918.1" font-size="12.5" font-weight="bold" font-family="'Liberation Sans', Arial, sans-serif" fill="#000" textLength="5.5" lengthAdjust="spacingAndGlyphs">2</text>
<text x="1330.1" y="999.4" font-size="19.5" font-weight="bold" font-family="'Liberation Sans', Arial, sans-serif" fill="#000" textLength="11.5" lengthAdjust="spacingAndGlyphs">R</text>
<text x="1343.6" y="1002.5" font-size="12.5" font-weight="bold" font-family="'Liberation Sans', Arial, sans-serif" fill="#000" textLength="5.5" lengthAdjust="spacingAndGlyphs">2</text>
<text x="1463.1" y="914.9" font-size="19.5" font-weight="bold" font-family="'Liberation Sans', Arial, sans-serif" fill="#000" textLength="34.5" lengthAdjust="spacingAndGlyphs">CPE</text>
<text x="1498.8" y="918" font-size="12.5" font-weight="bold" font-family="'Liberation Sans', Arial, sans-serif" fill="#000" textLength="5.5" lengthAdjust="spacingAndGlyphs">3</text>
<text x="1558.7" y="914.9" font-size="19.5" font-weight="bold" font-family="'Liberation Sans', Arial, sans-serif" fill="#000" textLength="11.5" lengthAdjust="spacingAndGlyphs">R</text>
<text x="1571.8" y="918" font-size="12.5" font-weight="bold" font-family="'Liberation Sans', Arial, sans-serif" fill="#000" textLength="5.5" lengthAdjust="spacingAndGlyphs">3</text>
<text x="1476.3" y="1000.2" font-size="19.5" font-weight="bold" font-family="'Liberation Sans', Arial, sans-serif" fill="#000" textLength="12" lengthAdjust="spacingAndGlyphs">C</text>
<text x="1489.2" y="1003.3" font-size="12.5" font-weight="bold" font-family="'Liberation Sans', Arial, sans-serif" fill="#000" textLength="5.5" lengthAdjust="spacingAndGlyphs">3</text>
<clipPath id="cd"><rect x="1139.2" y="887.3" width="702.4" height="580.5"/></clipPath>
<g clip-path="url(#cd)">
<path d="M1276.1 1391.8 L1277.6 1390.8 M1293.4 1382.4 L1299.7 1379.7 M1316.8 1374.3 L1327.5 1372 M1345.3 1370 L1358.8 1370 M1376.6 1371.7 L1388.1 1373.9 M1405.1 1379.3 L1411.5 1382.1 M1427.1 1390.9 L1428.1 1391.7 M1513.6 1372.1 L1516.8 1367.2 M1525.9 1351.7 L1531.2 1341.2 M1539.3 1325.1 L1547.1 1310.2 M1555.3 1294.2 L1571.3 1262.9 M1579.4 1246.9 L1604.9 1196.3 M1612 1179.9 L1638.9 1107 M1645.5 1090.3 L1687.4 989.1 M1694.3 972.5 L1731.9 882" fill="none" stroke="#000" stroke-width="1.5" stroke-linejoin="round" stroke-linecap="butt"/>
<path d="M1238.6 1386.4 L1241.1 1384.4 M1255.6 1373.7 L1264.3 1368 M1280.2 1359.8 L1296.4 1353.6 M1313.7 1348.9 L1336.8 1344.8 M1354.7 1343.7 L1377.7 1344.5 M1395.3 1347.4 L1415.8 1353.4 M1432.4 1360.1 L1442.7 1365.4 M1458 1374.9 L1463.4 1378.9 M1491.5 1401.2 L1492.4 1401.8 M1546.9 1377.8 L1547.9 1376.5 M1557.8 1361.5 L1561.4 1355 M1570.4 1339.4 L1577.2 1327.4 M1586.7 1312.1 L1601.9 1289.4 M1610.3 1273.6 L1626.3 1233.9 M1633.2 1217.3 L1656.1 1163.5 M1663.6 1147.1 L1702.9 1066.6 M1710.4 1050.2 L1764.5 920.8 M1771 904 L1778.8 881.8" fill="none" stroke="#000" stroke-width="1.5" stroke-linejoin="round" stroke-linecap="butt"/>
<path d="M1257.1 1389.1 L1258.1 1388 M1270.6 1375.1 L1277.7 1369 M1291.9 1358 L1306.8 1348.3 M1322.5 1339.7 L1347 1328.8 M1364 1323.6 L1397.5 1317.3 M1415.3 1316.2 L1450.4 1318.4 M1468 1321.4 L1499.1 1330.6 M1515.6 1337.3 L1535.2 1347.7 M1550 1357.6 L1559 1365.1 M1572.3 1377.2 L1575.3 1380.2 M1640 1379 L1641.4 1376.9 M1649.6 1361 L1652.2 1354.7 M1659.8 1338.5 L1667.4 1324.4 M1675.9 1308.6 L1691.5 1279.6 M1698.7 1263.2 L1714.7 1216.5 M1720.6 1199.5 L1742.9 1136.2 M1749.5 1119.4 L1791 1023.7 M1797.8 1007 L1843.7 885.9" fill="none" stroke="#000" stroke-width="1.5" stroke-linejoin="round" stroke-linecap="butt"/>
</g>
<circle cx="1187.5" cy="1443.2" r="6.8" fill="#000"/>
<circle cx="1190.5" cy="1439" r="6.8" fill="#000"/>
<circle cx="1193.8" cy="1435.4" r="6.8" fill="#000"/>
<circle cx="1197" cy="1431" r="6.8" fill="#000"/>
<circle cx="1200.1" cy="1426.7" r="6.8" fill="#000"/>
<circle cx="1202.5" cy="1422.5" r="6.8" fill="#000"/>
<circle cx="1204.9" cy="1418.1" r="6.8" fill="#000"/>
<circle cx="1211.9" cy="1411.8" r="6.8" fill="#000"/>
<circle cx="1220.6" cy="1403.9" r="6.8" fill="#000"/>
<circle cx="1231.6" cy="1392.1" r="6.8" fill="#000"/>
<circle cx="1248.1" cy="1378.7" r="6.8" fill="#000"/>
<circle cx="1271.8" cy="1363" r="6.8" fill="#000"/>
<circle cx="1304.8" cy="1350.4" r="6.8" fill="#000"/>
<circle cx="1345.7" cy="1343.3" r="6.8" fill="#000"/>
<circle cx="1386.7" cy="1344.9" r="6.8" fill="#000"/>
<circle cx="1424.4" cy="1355.9" r="6.8" fill="#000"/>
<circle cx="1450.7" cy="1369.6" r="6.8" fill="#000"/>
<circle cx="1470.7" cy="1384.2" r="6.8" fill="#000"/>
<circle cx="1484.1" cy="1396" r="6.8" fill="#000"/>
<circle cx="1499.8" cy="1407" r="6.8" fill="#000"/>
<circle cx="1507.7" cy="1409.4" r="6.8" fill="#000"/>
<circle cx="1518.7" cy="1405.5" r="6.8" fill="#000"/>
<circle cx="1530.5" cy="1394.4" r="6.8" fill="#000"/>
<circle cx="1541.5" cy="1385" r="6.8" fill="#000"/>
<circle cx="1553.3" cy="1369.3" r="6.8" fill="#000"/>
<circle cx="1565.9" cy="1347.2" r="6.8" fill="#000"/>
<circle cx="1581.7" cy="1319.6" r="6.8" fill="#000"/>
<circle cx="1606.9" cy="1281.9" r="6.8" fill="#000"/>
<circle cx="1629.7" cy="1225.6" r="6.8" fill="#000"/>
<circle cx="1659.6" cy="1155.2" r="6.8" fill="#000"/>
<circle cx="1706.9" cy="1058.5" r="6.8" fill="#000"/>
<circle cx="1768" cy="912.5" r="6.8" fill="#000"/>
<circle cx="1220.4" cy="1443.6" r="6.8" fill="#000"/>
<circle cx="1222.5" cy="1439" r="6.8" fill="#000"/>
<circle cx="1224.5" cy="1435" r="6.8" fill="#000"/>
<circle cx="1226.5" cy="1431" r="6.8" fill="#000"/>
<circle cx="1228.5" cy="1427" r="6.8" fill="#000"/>
<circle cx="1230.8" cy="1424" r="6.8" fill="#000"/>
<circle cx="1233.5" cy="1420" r="6.8" fill="#000"/>
<circle cx="1237.1" cy="1416.5" r="6.8" fill="#000"/>
<circle cx="1241.2" cy="1407.1" r="6.8" fill="#000"/>
<circle cx="1243.4" cy="1408.6" r="6.8" fill="#000"/>
<circle cx="1251.3" cy="1396" r="6.8" fill="#000"/>
<circle cx="1263.9" cy="1381.1" r="6.8" fill="#000"/>
<circle cx="1284.4" cy="1363" r="6.8" fill="#000"/>
<circle cx="1314.3" cy="1343.3" r="6.8" fill="#000"/>
<circle cx="1355.2" cy="1325.2" r="6.8" fill="#000"/>
<circle cx="1406.3" cy="1315.7" r="6.8" fill="#000"/>
<circle cx="1459.4" cy="1318.9" r="6.8" fill="#000"/>
<circle cx="1507.7" cy="1333.1" r="6.8" fill="#000"/>
<circle cx="1543.1" cy="1351.9" r="6.8" fill="#000"/>
<circle cx="1565.9" cy="1370.8" r="6.8" fill="#000"/>
<circle cx="1581.7" cy="1386.6" r="6.8" fill="#000"/>
<circle cx="1592.7" cy="1397.6" r="6.8" fill="#000"/>
<circle cx="1600.6" cy="1405.5" r="6.8" fill="#000"/>
<circle cx="1606.9" cy="1408.6" r="6.8" fill="#000"/>
<circle cx="1613.1" cy="1408.6" r="6.8" fill="#000"/>
<circle cx="1621" cy="1405.5" r="6.8" fill="#000"/>
<circle cx="1627.3" cy="1396.8" r="6.8" fill="#000"/>
<circle cx="1635.2" cy="1386.6" r="6.8" fill="#000"/>
<circle cx="1646.2" cy="1369.3" r="6.8" fill="#000"/>
<circle cx="1655.6" cy="1346.4" r="6.8" fill="#000"/>
<circle cx="1671.6" cy="1316.5" r="6.8" fill="#000"/>
<circle cx="1695.8" cy="1271.7" r="6.8" fill="#000"/>
<circle cx="1717.6" cy="1208" r="6.8" fill="#000"/>
<circle cx="1745.9" cy="1127.7" r="6.8" fill="#000"/>
<circle cx="1794.6" cy="1015.4" r="6.8" fill="#000"/>
<circle cx="1219.8" cy="1444" r="6.8" fill="#000"/>
<circle cx="1226.1" cy="1433.8" r="6.8" fill="#000"/>
<circle cx="1234" cy="1424.4" r="6.8" fill="#000"/>
<circle cx="1241.9" cy="1416.5" r="6.8" fill="#000"/>
<circle cx="1249.7" cy="1413.3" r="6.8" fill="#000"/>
<circle cx="1256.8" cy="1407" r="6.8" fill="#000"/>
<circle cx="1268.6" cy="1396.8" r="6.8" fill="#000"/>
<circle cx="1285.1" cy="1385.8" r="6.8" fill="#000"/>
<circle cx="1308" cy="1376.3" r="6.8" fill="#000"/>
<circle cx="1336.3" cy="1370" r="6.8" fill="#000"/>
<circle cx="1367.8" cy="1370" r="6.8" fill="#000"/>
<circle cx="1396.9" cy="1375.6" r="6.8" fill="#000"/>
<circle cx="1419.7" cy="1385.8" r="6.8" fill="#000"/>
<circle cx="1435.5" cy="1396.8" r="6.8" fill="#000"/>
<circle cx="1445.7" cy="1407" r="6.8" fill="#000"/>
<circle cx="1452.8" cy="1413.3" r="6.8" fill="#000"/>
<circle cx="1462" cy="1418" r="6.8" fill="#000"/>
<circle cx="1471.5" cy="1417.3" r="6.8" fill="#000"/>
<circle cx="1480.9" cy="1411.8" r="6.8" fill="#000"/>
<circle cx="1487.2" cy="1405.5" r="6.8" fill="#000"/>
<circle cx="1497.5" cy="1392.9" r="6.8" fill="#000"/>
<circle cx="1508.5" cy="1379.5" r="6.8" fill="#000"/>
<circle cx="1521.9" cy="1359.8" r="6.8" fill="#000"/>
<circle cx="1535.2" cy="1333.1" r="6.8" fill="#000"/>
<circle cx="1551.2" cy="1302.2" r="6.8" fill="#000"/>
<circle cx="1575.4" cy="1254.9" r="6.8" fill="#000"/>
<circle cx="1608.9" cy="1188.3" r="6.8" fill="#000"/>
<circle cx="1642" cy="1098.6" r="6.8" fill="#000"/>
<circle cx="1690.9" cy="980.8" r="6.8" fill="#000"/>
<path d="M1233.2 1417.3 C1236.2 1413.5 1246.5 1400.8 1251.5 1394.4 C1256.4 1388 1257 1384.5 1262.9 1378.7 C1268.9 1372.9 1277.8 1366 1287.1 1359.8 C1296.5 1353.6 1307.1 1347.2 1319.1 1341.7 C1331 1336.2 1344 1330.6 1358.8 1326.8 C1373.6 1323 1393.7 1320 1407.6 1318.9 C1421.5 1317.9 1431 1319.5 1442 1320.5 C1453 1321.5 1463 1323 1473.5 1325.2 C1484 1327.4 1494.5 1330.1 1504.9 1333.8 C1515.3 1337.5 1526.9 1342.5 1535.9 1347.2 C1545 1351.9 1551.5 1356.7 1559.2 1362.2 C1566.9 1367.7 1575.9 1374.7 1582.3 1380.3 C1588.7 1385.9 1592.6 1391.5 1597.5 1396 C1602.4 1400.5 1606.9 1406.7 1611.6 1407 C1616.3 1407.3 1621.5 1401.8 1625.8 1397.6 C1630.1 1393.4 1633.5 1387.9 1637.3 1381.9 C1641.2 1375.9 1644.8 1368.5 1648.9 1361.4 C1653 1354.3 1657.8 1347 1662.1 1339.4 C1666.5 1331.8 1672.9 1319.7 1675 1315.7" fill="none" stroke="#ff0000" stroke-width="4.4" stroke-linejoin="round" stroke-dasharray="6 1.2" stroke-linecap="butt"/>
<path d="M1675 1315.7 C1678.8 1308.4 1690.4 1289.7 1697.8 1271.7 C1705.2 1253.8 1711.2 1232 1719.6 1208 C1727.9 1184 1735.1 1159.8 1747.9 1127.7 C1760.7 1095.6 1788.5 1034.1 1796.6 1015.4" fill="none" stroke="#ff0000" stroke-width="4.6" stroke-linejoin="round" stroke-dasharray="2.3 3.8" stroke-linecap="butt"/>
<path d="M1205.6 1422 C1209.4 1417.5 1219.9 1402.7 1228.1 1395 C1236.4 1387.3 1242.6 1382.5 1255.1 1375.6 C1267.6 1368.7 1287.7 1358.3 1303 1353.5 C1318.4 1348.7 1333.3 1347.7 1347.2 1346.9 C1361.1 1346.1 1374.3 1347.2 1386.6 1348.8 C1398.8 1350.4 1411.9 1354.1 1420.9 1356.7 C1430 1359.3 1433.8 1360.8 1441 1364.5 C1448.2 1368.2 1456.5 1373.7 1464.2 1378.7 C1471.9 1383.7 1479.8 1389.4 1487.4 1394.4 C1494.9 1399.4 1502.5 1408.1 1509.3 1408.6 C1516.1 1409.1 1521.2 1403.9 1528.2 1397.6 C1535.1 1391.3 1544.5 1379.2 1551 1370.8 C1557.6 1362.4 1562 1355.7 1567.4 1347.2 C1572.9 1338.7 1560.4 1367.9 1583.7 1320 C1607 1272.1 1686.7 1103.3 1707.3 1060" fill="none" stroke="#008000" stroke-width="4.4" stroke-linejoin="round" stroke-linecap="round"/>
<path d="M1240.3 1423.6 C1242.8 1420.7 1250 1410.6 1255 1406 C1260 1401.4 1264.6 1399.6 1270.3 1396 C1276.1 1392.4 1282.8 1387.7 1289.4 1384.5 C1296.1 1381.3 1300.1 1379.2 1310.2 1377.1 C1320.2 1374.9 1337.9 1372.2 1349.7 1371.6 C1361.5 1370.9 1370.7 1371.2 1381.2 1373.2 C1391.6 1375.2 1402 1378.3 1412.4 1383.4 C1422.7 1388.5 1436.1 1399.3 1443.3 1403.9 C1450.5 1408.5 1451.5 1409.1 1455.7 1411.2 C1459.9 1413.3 1464.2 1416.5 1468.3 1416.8 C1472.3 1417.1 1476.8 1414.6 1480 1413 C1483.2 1411.4 1482.8 1411.9 1487.2 1407 C1491.6 1402.1 1499.5 1393.4 1506.6 1383.4 C1513.6 1373.4 1521.5 1360.8 1529.6 1347.2 C1537.7 1333.6 1547.3 1316.8 1555.3 1301.6 C1563.3 1286.4 1568.1 1274.9 1577.4 1256 C1586.7 1237.1 1599.5 1214.2 1610.9 1188 C1622.3 1161.8 1640.1 1113.5 1645.9 1098.6" fill="none" stroke="#0000ff" stroke-width="4.4" stroke-linejoin="round" stroke-linecap="round"/>
<text x="1758.8" y="996.7" font-size="42" font-weight="bold" fill="#000" text-anchor="start" font-family="'Liberation Sans', Arial, sans-serif" textLength="71" lengthAdjust="spacingAndGlyphs">N-C</text>
<text x="1675.5" y="1032" font-size="41" font-weight="bold" fill="#008000" text-anchor="start" font-family="'Liberation Sans', Arial, sans-serif" textLength="95" lengthAdjust="spacingAndGlyphs">N-Ca</text>
<text x="1579.3" y="1074.1" font-size="41" font-weight="bold" fill="#0000ff" text-anchor="start" font-family="'Liberation Sans', Arial, sans-serif" textLength="105" lengthAdjust="spacingAndGlyphs">N-Cw</text>
<text x="1642.8" y="923.6" font-size="27" font-weight="bold" fill="#000" text-anchor="start" font-family="'Liberation Sans', Arial, sans-serif" textLength="92" lengthAdjust="spacingAndGlyphs">10 mHz</text>
<text x="1138.4" y="1378.1" font-size="27" font-weight="bold" fill="#000" text-anchor="start" font-family="'Liberation Sans', Arial, sans-serif" textLength="99" lengthAdjust="spacingAndGlyphs">100 kHz</text>
<text x="1505.7" y="1460.4" font-size="27" font-weight="bold" fill="#000" text-anchor="start" font-family="'Liberation Sans', Arial, sans-serif" textLength="54" lengthAdjust="spacingAndGlyphs">8 Hz</text>
<line x1="1689.3" y1="927.8" x2="1689.3" y2="959.9" stroke="#000" stroke-width="1.5" stroke-linecap="butt"/>
<path d="M1689.3 971.9 L1685.3 957.9 L1693.3 957.9 Z" fill="#000"/>
<line x1="1183.1" y1="1384.4" x2="1183.1" y2="1415" stroke="#000" stroke-width="1.5" stroke-linecap="butt"/>
<path d="M1183.1 1428 L1179.1 1413 L1187.1 1413 Z" fill="#000"/>
<line x1="1521.9" y1="1441.7" x2="1521.9" y2="1419.4" stroke="#000" stroke-width="1.5" stroke-linecap="butt"/>
<path d="M1521.9 1409.4 L1525.9 1421.4 L1517.9 1421.4 Z" fill="#000"/>
</svg></body></html>
